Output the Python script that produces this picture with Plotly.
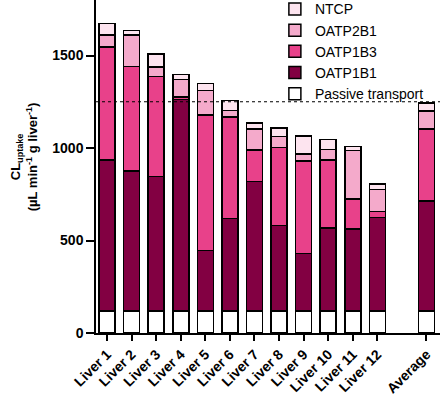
import plotly.graph_objects as go

categories = ["Liver 1", "Liver 2", "Liver 3", "Liver 4", "Liver 5", "Liver 6",
              "Liver 7", "Liver 8", "Liver 9", "Liver 10", "Liver 11", "Liver 12", "Average"]
positions = [0, 1, 2, 3, 4, 5, 6, 7, 8, 9, 10, 11, 13]

passive = [118] * 13
oatp1b1 = [817, 759, 727, 1143, 327, 502, 702, 464, 311, 449, 444, 507, 595]
oatp1b3 = [611, 564, 542, 16, 733, 547, 169, 421, 502, 368, 162, 31, 390]
oatp2b1 = [65, 170, 51, 92, 133, 36, 115, 60, 37, 56, 263, 119, 97]
ntcp = [61, 25, 70, 29, 37, 54, 31, 45, 98, 55, 22, 30, 43]

reference_line = 1250
y_ticks = [0, 500, 1000, 1500]

series = [
    ("Passive transport", passive, "#ffffff"),
    ("OATP1B1", oatp1b1, "#820042"),
    ("OATP1B3", oatp1b3, "#e8418a"),
    ("OATP2B1", oatp2b1, "#f4aacb"),
    ("NTCP", ntcp, "#fde4ef"),
]

FONT = "Liberation Sans, Arial, sans-serif"

fig = go.Figure()
for name, vals, color in series:
    fig.add_trace(go.Bar(
        x=positions, y=vals, name=name, width=0.65,
        marker=dict(color=color, line=dict(color="black", width=1.5)),
    ))

fig.add_shape(type="line", xref="paper", yref="y", x0=0, x1=1,
              y0=reference_line, y1=reference_line,
              line=dict(color="black", width=1.2, dash="dot"), layer="above")

fig.add_annotation(
    text="<b>CL<sub>uptake</sub></b><br><b>(µL min<sup>-1</sup> g liver<sup>-1</sup>)</b>",
    xref="paper", yref="paper", x=-0.21, y=0.53, textangle=-90,
    showarrow=False, xanchor="center", yanchor="middle",
    font=dict(family=FONT, size=13, color="black"),
)

fig.update_layout(
    barmode="stack",
    width=440, height=400,
    margin=dict(l=96, r=0, t=0, b=67, autoexpand=False),
    paper_bgcolor="white", plot_bgcolor="white",
    font=dict(family=FONT, color="black"),
    showlegend=True,
    legend=dict(
        traceorder="reversed", x=0.52, y=1.02, xanchor="left", yanchor="top",
        bgcolor="rgba(0,0,0,0)", font=dict(family=FONT, size=14, color="black"),
        itemwidth=30,
    ),
    xaxis=dict(
        range=[-0.45, 13.55], tickmode="array", tickvals=positions,
        ticktext=["<b>%s</b>" % c for c in categories], tickangle=-45,
        showline=True, linecolor="black", linewidth=1.5,
        ticks="outside", ticklen=6, tickwidth=1.5, tickcolor="black",
        showgrid=False, zeroline=False, automargin=False,
        tickfont=dict(family=FONT, size=14, color="black"),
    ),
    yaxis=dict(
        range=[0, 1800], tickmode="array", tickvals=y_ticks,
        ticktext=["<b>%d</b>" % v for v in y_ticks],
        showline=True, linecolor="black", linewidth=1.5,
        ticks="outside", ticklen=8, tickwidth=1.5, tickcolor="black",
        showgrid=False, zeroline=False, automargin=False,
        tickfont=dict(family=FONT, size=14, color="black"),
    ),
)

fig.write_html("out.html", config={"displayModeBar": False},
               post_script="document.body.style.margin='0';")
